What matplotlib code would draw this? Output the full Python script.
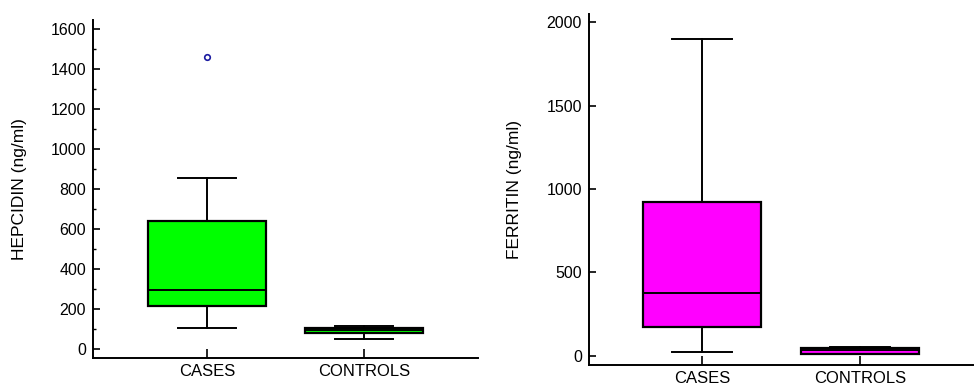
import matplotlib
matplotlib.use("Agg")
import matplotlib.pyplot as plt
from matplotlib.ticker import MultipleLocator

plt.rcParams['font.family'] = ['Liberation Sans', 'DejaVu Sans']

groups = ["CASES", "CONTROLS"]

# Hepcidin (ng/ml) box statistics
hep_whislo = [105, 52]
hep_q1 = [216, 82]
hep_med = [295, 95]
hep_q3 = [641, 106]
hep_whishi = [853, 114]
hep_fliers = [[1458], []]

# Ferritin (ng/ml) box statistics
fer_whislo = [24, 8]
fer_q1 = [170, 12]
fer_med = [378, 36]
fer_q3 = [924, 48]
fer_whishi = [1900, 54]
fer_fliers = [[], []]


def make_stats(lo, q1, med, q3, hi, fl):
    return [dict(whislo=a, q1=b, med=c, q3=d, whishi=e, fliers=f, label=g)
            for a, b, c, d, e, f, g in zip(lo, q1, med, q3, hi, fl, groups)]


def draw(ax, stats, color, ylim, major, minor, ylabel):
    ax.bxp(stats, positions=[1, 2], widths=0.75, patch_artist=True,
           boxprops=dict(facecolor=color, edgecolor='black', linewidth=1.6),
           medianprops=dict(color='black', linewidth=1.4),
           whiskerprops=dict(color='black', linewidth=1.4),
           capprops=dict(color='black', linewidth=1.4),
           flierprops=dict(marker='o', markersize=4, markerfacecolor='none',
                           markeredgecolor='#1a1aa0', markeredgewidth=1.2))
    ax.set_ylim(*ylim)
    ax.yaxis.set_major_locator(MultipleLocator(major))
    if minor:
        ax.yaxis.set_minor_locator(MultipleLocator(minor))
    ax.spines['top'].set_visible(False)
    ax.spines['right'].set_visible(False)
    for s in ('left', 'bottom'):
        ax.spines[s].set_linewidth(1.4)
    ax.tick_params(axis='y', direction='in', length=5, width=1.2, labelsize=11.5, pad=5)
    ax.tick_params(axis='y', which='minor', direction='in', length=2.5, width=1.0)
    ax.tick_params(axis='x', direction='in', length=6.5, width=1.2, labelsize=12, pad=4)
    ax.set_ylabel(ylabel, fontsize=12.5)


fig = plt.figure(figsize=(9.75, 3.87), dpi=100)

ax1 = fig.add_axes([0.0954, 0.0749, 0.3949, 0.8734])
draw(ax1, make_stats(hep_whislo, hep_q1, hep_med, hep_q3, hep_whishi, hep_fliers),
     '#00ff00', (-45, 1645), 200, 100, 'HEPCIDIN (ng/ml)')
ax1.set_xlim(0.274, 2.726)
ax1.yaxis.set_label_coords(-0.171, 0.5)

ax2 = fig.add_axes([0.6041, 0.0568, 0.3939, 0.907])
draw(ax2, make_stats(fer_whislo, fer_q1, fer_med, fer_q3, fer_whishi, fer_fliers),
     '#ff00ff', (-56, 2050), 500, None, 'FERRITIN (ng/ml)')
ax2.set_xlim(0.285, 2.715)
ax2.yaxis.set_label_coords(-0.174, 0.5)

fig.savefig("out.png", dpi=100)
